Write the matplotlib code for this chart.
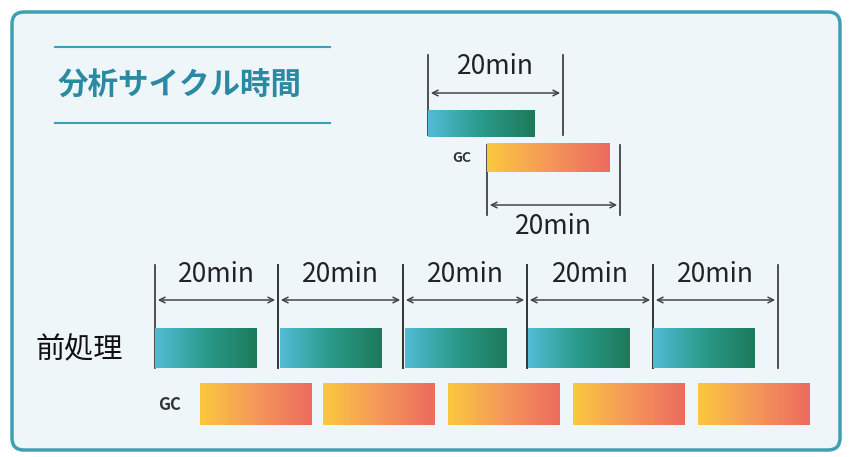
import numpy as np
import matplotlib.pyplot as plt
from matplotlib.colors import LinearSegmentedColormap
from matplotlib.patches import FancyBboxPatch

plt.rcParams['font.family'] = ['Noto Sans CJK JP', 'DejaVu Sans']

title = "分析サイクル時間"
row_label = "前処理"
gc_label = "GC"
cycle_text = "20min"

# bottom row: pretreatment and GC starts (pixels), widths
prep_starts = [155, 280, 405, 528, 653]
prep_width = 102
gc_starts = [200, 323, 448, 573, 698]
gc_width = 112
cycle_marks = [155, 278, 403, 527, 653, 778]

teal = LinearSegmentedColormap.from_list("teal", ["#52bcd6", "#2a9a8a", "#1d7a5a"])
orange = LinearSegmentedColormap.from_list("orange", ["#fbc83e", "#f5985a", "#ec6b5e"])
grad = np.linspace(0, 1, 256).reshape(1, -1)

fig = plt.figure(figsize=(8.52, 4.57), dpi=100)
ax = fig.add_axes([0, 0, 1, 1])
ax.set_xlim(0, 852)
ax.set_ylim(457, 0)
ax.axis('off')

ax.add_patch(FancyBboxPatch((12, 12), 828, 438, boxstyle="round,pad=0,rounding_size=12",
                            fc="#eef6f9", ec="#3f9fb6", lw=2.5))

def bar(x, y, w, h, cmap):
    ax.imshow(grad, cmap=cmap, aspect='auto', extent=(x, x + w, y + h, y), zorder=3)

def span(x0, x1, ytop, ybot, yarrow, ytext):
    for x in (x0, x1):
        ax.plot([x, x], [ytop, ybot], color="#333333", lw=1.2, zorder=2)
    ax.annotate("", xy=(x1, yarrow), xytext=(x0, yarrow),
                arrowprops=dict(arrowstyle="<->", color="#444444", lw=1.1))
    ax.text((x0 + x1) / 2, ytext, cycle_text, ha='center', va='center', fontsize=19, color="#222222")

# title
ax.plot([55, 330], [47, 47], color="#3f9fb6", lw=1.5)
ax.plot([55, 330], [123, 123], color="#3f9fb6", lw=1.5)
ax.text(58, 86, title, ha='left', va='center', fontsize=22, fontweight='bold', color="#2b8aa2")

# top example
bar(428, 110, 107, 27, teal)
span(428, 563, 55, 135, 93, 67)
ax.text(462, 158, gc_label, ha='center', va='center', fontsize=10, fontweight='bold', color="#333333")
bar(487, 143, 123, 29, orange)
span(487, 620, 145, 215, 205, 226)

# bottom row
for i in range(5):
    span(cycle_marks[i], cycle_marks[i + 1], 265, 368, 300, 274)
for x in prep_starts:
    bar(x, 328, prep_width, 40, teal)
for x in gc_starts:
    bar(x, 383, gc_width, 42, orange)
ax.text(35, 350, row_label, ha='left', va='center', fontsize=21, color="#111111")
ax.text(170, 405, gc_label, ha='center', va='center', fontsize=12, fontweight='bold', color="#333333")

fig.savefig("out.png", dpi=100)
